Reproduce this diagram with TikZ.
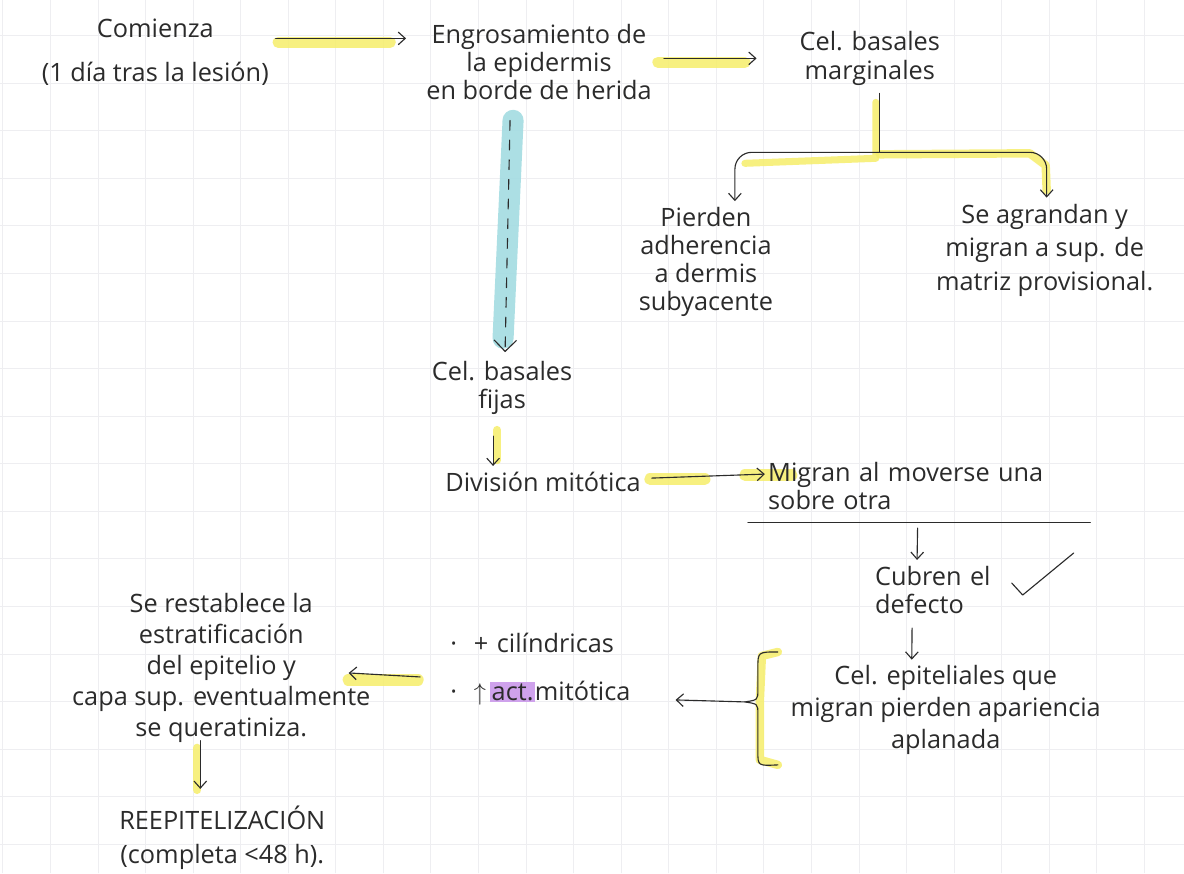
\documentclass[tikz,border=0pt]{standalone}
\usepackage{fontspec}
\setmainfont{Open Sans}
\usetikzlibrary{arrows.meta}
\definecolor{tinta}{HTML}{2B2B2B}
\definecolor{resalta}{HTML}{F6EE6A}
\definecolor{celeste}{HTML}{A3DCE2}
\definecolor{lila}{HTML}{CFA2EC}
\definecolor{cuadro}{HTML}{EEEEF1}

\begin{document}
\begin{tikzpicture}[x=0.025cm, y=-0.025cm,
  line join=round, line cap=round,
  every node/.style={inner sep=0pt, font=\fontsize{18}{20}\selectfont, text=tinta},
  centrado/.style={align=center, minimum width=#1},
  izquierda/.style={align=left, text width=#1, anchor=west},
  flecha/.style={draw=tinta, line width=0.8pt, -{Straight Barb[length=5pt,width=9pt]}},
  trazo/.style={draw=tinta, line width=0.8pt},
  marcador/.style={draw=resalta, line width=8pt, opacity=0.85},
  ]

% hoja cuadriculada
\fill[white] (0,0) rectangle (1184,873);
\foreach \k in {0,...,24} \draw[cuadro, line width=0.6pt] ({2.4+47.6*\k},0) -- ({2.4+47.6*\k},873);
\foreach \k in {0,...,17} \draw[cuadro, line width=0.6pt] (0,{35.2+47.6*\k}) -- (1184,{35.2+47.6*\k});

% marcador
\draw[marcador] (278,42) -- (390,42);
\draw[marcador] (658,62) -- (745,62);
\draw[marcador, line width=5pt] (876,102) -- (876,158) -- (745,163);
\draw[marcador, line width=6pt] (880,154) -- (1030,153) -- (1046,165) -- (1047,190);
\draw[celeste, line width=15pt, opacity=0.9] (513,120) -- (503,338);
\draw[marcador, line width=6pt] (497,430) -- (497,460);
\draw[marcador] (650,479) -- (705,479);
\draw[marcador] (745,475) -- (792,475);
\draw[marcador, line width=6pt] (778,652) -- (762,656) -- (760,700) -- (760,760) -- (778,765);
\draw[marcador] (348,680) -- (418,680);
\draw[marcador, line width=6pt] (197,748) -- (197,790);

% textos
\node[centrado=7.25cm] (comienza) at (155,52) {Comienza\\[11pt](1 día tras la lesión)};
\node[centrado=5.45cm] (engros) at (539,62) {Engrosamiento de\\la epidermis\\en borde de herida};
\node[centrado=4.5cm] (celmarg) at (870,58) {Cel. basales\\marginales};
\node[centrado=3.8cm] (pierden) at (706,262) {Pierden\\adherencia\\a dermis\\subyacente};
\node[centrado=6.5cm] (agrandan) at (1045,250) {Se agrandan y\\[4pt]migran a sup. de\\[4pt]matriz provisional.};
\node[centrado=3.625cm] (fijas) at (502,388) {Cel. basales\\fijas};
\node[centrado=5.325cm] (division) at (543,482) {División mitótica};
\node[izquierda=7.175cm] (migran) at (768,486) {Migran al moverse una\\sobre otra};
\node[izquierda=3.5cm] (cubren) at (875,590) {Cubren el\\defecto};
\node[centrado=7.7cm] (epit) at (946,710) {Cel. epiteliales que\\[3pt]migran pierden apariencia\\[3pt]aplanada};
\node[izquierda=5.25cm] (cambios) at (450,669) {·\ \ + cilíndricas\\[14pt]·\ \ $\uparrow$\,{\fboxsep=1pt\colorbox{lila}{act.}}mitótica};
\node[centrado=6.95cm] (restab) at (221,668) {Se restablece la\\[2pt]estratificación\\[2pt]del epitelio y\\[2pt]capa sup. eventualmente\\[2pt]se queratiniza.};
\node[centrado=6.625cm] (reepi) at (222,838) {REEPITELIZACIÓN\\[4pt](completa <48 h).};

% flechas
\draw[flecha] ([shift={(-25,-14)}]comienza.east) -- ([shift={(-20,-24)}]engros.west);
\draw[flecha] ([shift={(12,-4)}]engros.east) -- ([shift={(-23,0)}]celmarg.west);
\coordinate (nudo) at (880,152);
\draw[trazo] ([shift={(10,8)}]celmarg.south) -- (nudo);
\draw[flecha, rounded corners=12] (nudo) -| ([shift={(29,-6)}]pierden.north);
\draw[flecha, rounded corners=12] (nudo) -| ([shift={(2,-6)}]agrandan.north);
\draw[flecha, dashed, dash pattern=on 7pt off 7pt, -{Straight Barb[length=8pt,width=16pt]}] ([shift={(-29,20)}]engros.south) -- ([shift={(3,-9)}]fijas.north);
\draw[flecha] ([shift={(-9,21)}]fijas.south) -- ([shift={(-50,-6)}]division.north);
\draw[flecha] ([shift={(2,-4)}]division.east) -- ([shift={(-3,-12)}]migran.west);
\draw[trazo] ([shift={(-20,12)}]migran.south west) -- ([shift={(35,12)}]migran.south east);
\draw[flecha] ([shift={(6,18)}]migran.south) -- ([shift={(-28,-6)}]cubren.north);
\draw[trazo] (1012,583) -- (1023,595) -- (1074,553);
\draw[flecha] ([shift={(-33,14)}]cubren.south) -- ([shift={(-34,-5)}]epit.north);
\draw[trazo] (778,652) .. controls (758,652) .. (758,668) -- (758,690) .. controls (758,700) .. (745,702) .. controls (758,704) .. (758,714) -- (758,752) .. controls (758,766) .. (778,765);
\coordinate (punta) at (745,702);
\draw[flecha] (punta) -- ([shift={(15,31)}]cambios.east);
\draw[flecha] ([shift={(-30,8)}]cambios.west) -- ([shift={(-22,5)}]restab.east);
\draw[flecha] ([shift={(-21,-2)}]restab.south) -- ([shift={(-22,-17)}]reepi.north);
\end{tikzpicture}
\end{document}
